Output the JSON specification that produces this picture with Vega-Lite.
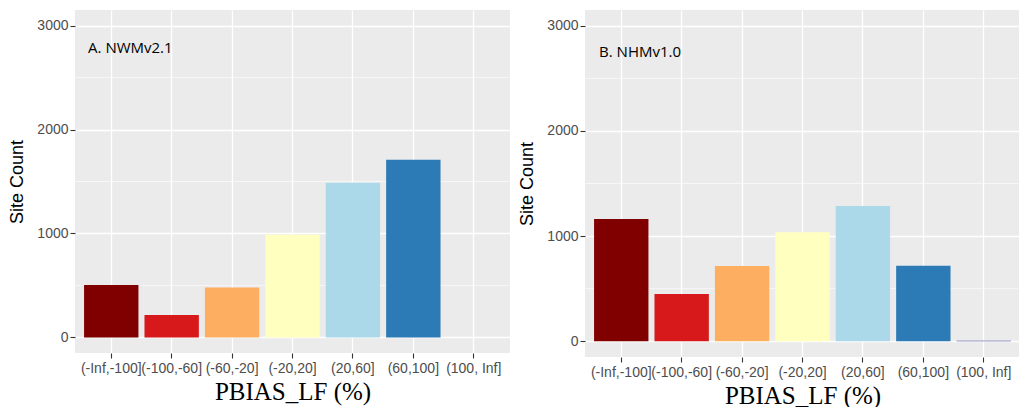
{
  "$schema": "https://vega.github.io/schema/vega-lite/v6.json",
  "background": "white",
  "padding": {"left": 8, "top": 10, "right": 0, "bottom": 0},
  "spacing": 7,
  "datasets": {
    "nwm": [
      {"bin": "(-Inf,-100]", "count": 505},
      {"bin": "(-100,-60]", "count": 215},
      {"bin": "(-60,-20]", "count": 480},
      {"bin": "(-20,20]", "count": 988},
      {"bin": "(20,60]", "count": 1488},
      {"bin": "(60,100]", "count": 1710},
      {"bin": "(100, Inf]", "count": 0}
    ],
    "nhm": [
      {"bin": "(-Inf,-100]", "count": 1163},
      {"bin": "(-100,-60]", "count": 449},
      {"bin": "(-60,-20]", "count": 715},
      {"bin": "(-20,20]", "count": 1037},
      {"bin": "(20,60]", "count": 1286},
      {"bin": "(60,100]", "count": 717},
      {"bin": "(100, Inf]", "count": 4}
    ],
    "minor": [{"v": 500}, {"v": 1500}, {"v": 2500}],
    "labA": [{"label": "A. NWMv2.1"}],
    "labB": [{"label": "B.  NHMv1.0"}]
  },
  "config": {
    "view": {"fill": "#EBEBEB", "stroke": null},
    "axis": {
      "domain": false,
      "labelFont": "Liberation Sans",
      "labelFontSize": 14,
      "labelColor": "#4D4D4D",
      "tickColor": "#333333",
      "tickSize": 5,
      "tickWidth": 1.1,
      "gridColor": "white",
      "gridWidth": 1.3,
      "gridOpacity": 1,
      "titleColor": "black",
      "titleFontWeight": "normal"
    }
  },
  "hconcat": [
    {
      "width": 435,
      "height": 343,
      "layer": [
        {
          "data": {"name": "minor"},
          "mark": {"type": "rule", "color": "white", "strokeWidth": 0.6},
          "encoding": {
            "y": {"field": "v", "type": "quantitative",
              "scale": {"domain": [-150, 3150], "nice": false, "zero": false},
              "axis": {"values": [0, 1000, 2000, 3000], "format": "d", "title": "Site Count", "titleFont": "Liberation Sans", "titleFontSize": 18, "titlePadding": 10, "labelPadding": 2, "grid": true}}
          }
        },
        {
          "data": {"name": "nwm"},
          "mark": {"type": "bar"},
          "encoding": {
            "x": {"field": "bin", "type": "nominal", "sort": null,
              "scale": {"domain": ["(-Inf,-100]", "(-100,-60]", "(-60,-20]", "(-20,20]", "(20,60]", "(60,100]", "(100, Inf]"], "paddingInner": 0.1, "paddingOuter": 0.15},
              "axis": {"title": "PBIAS_LF (%)", "titleFont": "Liberation Serif", "titleFontSize": 25, "titlePadding": 4, "labelAngle": 0, "labelPadding": 3, "labelOverlap": false, "labelBound": false, "grid": true}},
            "y": {"field": "count", "type": "quantitative",
              "scale": {"domain": [-150, 3150], "nice": false, "zero": false},
              "axis": {"values": [0, 1000, 2000, 3000], "format": "d", "title": "Site Count", "titleFont": "Liberation Sans", "titleFontSize": 18, "titlePadding": 10, "labelPadding": 2, "grid": true}},
            "color": {"field": "bin", "type": "nominal",
              "scale": {"domain": ["(-Inf,-100]", "(-100,-60]", "(-60,-20]", "(-20,20]", "(20,60]", "(60,100]", "(100, Inf]"], "range": ["#800000", "#D7191C", "#FDAE61", "#FFFFBF", "#ABD9E9", "#2C7BB6", "#313695"]},
              "legend": null}
          }
        },
        {
          "data": {"name": "labA"},
          "mark": {"type": "text", "align": "left", "baseline": "middle", "font": "Open Sans", "fontSize": 15, "color": "black", "dx": 4},
          "encoding": {
            "text": {"field": "label"},
            "x": {"datum": "(-Inf,-100]", "bandPosition": 0},
            "y": {"datum": 2780}
          }
        }
      ]
    },
    {
      "width": 435,
      "height": 347,
      "layer": [
        {
          "data": {"name": "minor"},
          "mark": {"type": "rule", "color": "white", "strokeWidth": 0.6},
          "encoding": {
            "y": {"field": "v", "type": "quantitative",
              "scale": {"domain": [-150, 3150], "nice": false, "zero": false},
              "axis": {"values": [0, 1000, 2000, 3000], "format": "d", "title": "Site Count", "titleFont": "Liberation Sans", "titleFontSize": 18, "titlePadding": 10, "labelPadding": 2, "grid": true}}
          }
        },
        {
          "data": {"name": "nhm"},
          "mark": {"type": "bar"},
          "encoding": {
            "x": {"field": "bin", "type": "nominal", "sort": null,
              "scale": {"domain": ["(-Inf,-100]", "(-100,-60]", "(-60,-20]", "(-20,20]", "(20,60]", "(60,100]", "(100, Inf]"], "paddingInner": 0.1, "paddingOuter": 0.15},
              "axis": {"title": "PBIAS_LF (%)", "titleFont": "Liberation Serif", "titleFontSize": 25, "titlePadding": 4, "labelAngle": 0, "labelPadding": 3, "labelOverlap": false, "labelBound": false, "grid": true}},
            "y": {"field": "count", "type": "quantitative",
              "scale": {"domain": [-150, 3150], "nice": false, "zero": false},
              "axis": {"values": [0, 1000, 2000, 3000], "format": "d", "title": "Site Count", "titleFont": "Liberation Sans", "titleFontSize": 18, "titlePadding": 10, "labelPadding": 2, "grid": true}},
            "color": {"field": "bin", "type": "nominal",
              "scale": {"domain": ["(-Inf,-100]", "(-100,-60]", "(-60,-20]", "(-20,20]", "(20,60]", "(60,100]", "(100, Inf]"], "range": ["#800000", "#D7191C", "#FDAE61", "#FFFFBF", "#ABD9E9", "#2C7BB6", "#313695"]},
              "legend": null}
          }
        },
        {
          "data": {"name": "labB"},
          "mark": {"type": "text", "align": "left", "baseline": "middle", "font": "Open Sans", "fontSize": 15, "color": "black", "dx": 5},
          "encoding": {
            "text": {"field": "label"},
            "x": {"datum": "(-Inf,-100]", "bandPosition": 0},
            "y": {"datum": 2750}
          }
        }
      ]
    }
  ]
}
